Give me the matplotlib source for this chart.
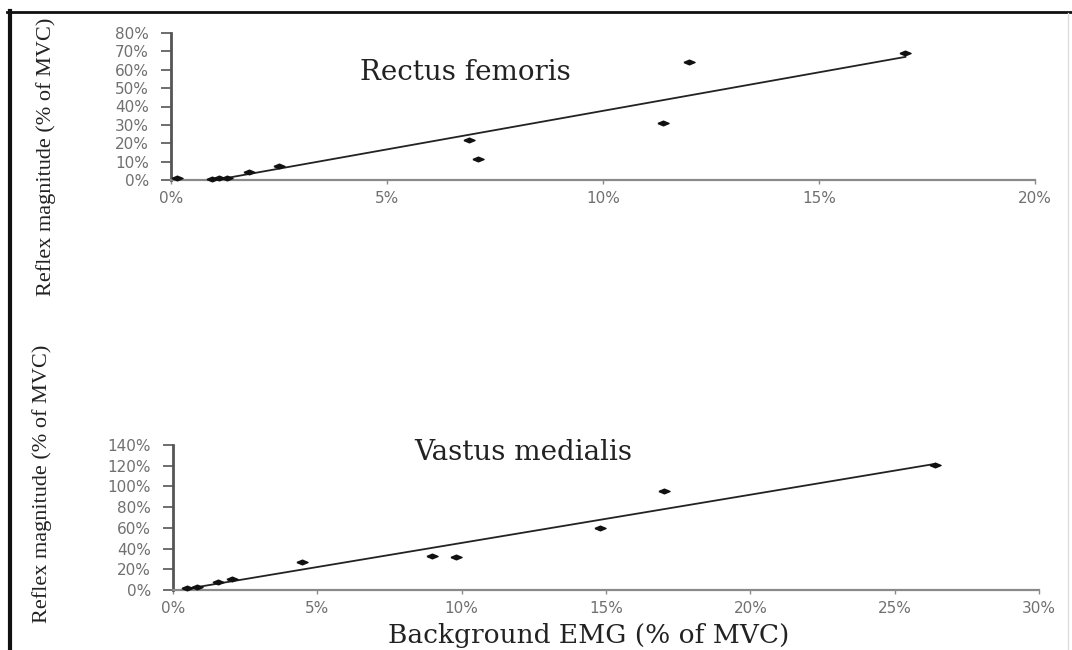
import numpy as np
import matplotlib
matplotlib.use("Agg")
import matplotlib.pyplot as plt
from matplotlib.lines import Line2D
from matplotlib.ticker import FixedLocator, FuncFormatter

# Rectus femoris: background EMG vs reflex magnitude (both % of MVC)
rf_emg = [0.15, 0.95, 1.1, 1.3, 1.8, 2.5, 6.9, 7.1, 11.4, 12.0, 17.0]
rf_reflex = [1.0, 0.8, 1.0, 1.2, 4.4, 7.6, 21.8, 11.4, 31.0, 64.2, 69.1]

# Vastus medialis
vm_emg = [0.48, 0.83, 1.56, 2.04, 4.47, 8.97, 9.8, 14.8, 17.0, 26.4]
vm_reflex = [1.9, 2.9, 7.7, 10.6, 27.0, 32.8, 31.9, 60.0, 95.6, 120.7]

rf_xticks = [0, 5, 10, 15, 20]
rf_yticks = [0, 10, 20, 30, 40, 50, 60, 70, 80]
vm_xticks = [0, 5, 10, 15, 20, 25, 30]
vm_yticks = [0, 20, 40, 60, 80, 100, 120, 140]

ylabel_text = "Reflex magnitude (% of MVC)"
xlabel_text = "Background EMG (% of MVC)"

W, H = 1072, 650
fig = plt.figure(figsize=(W / 100, H / 100), dpi=100)
fig.patch.set_facecolor("white")

tick_color = "#707070"
pct = FuncFormatter(lambda v, _: f"{v:.0f}%")
# horizontally stretched diamond marker
marker_shape = [(-1, 0), (0, 0.42), (1, 0), (0, -0.42), (-1, 0)]


def px_axes(left, right, top, bottom):
    return fig.add_axes([left / W, 1 - bottom / H, (right - left) / W, (bottom - top) / H])


def panel(ax, x, y, xticks, yticks, title, title_xy):
    ax.set_xlim(xticks[0], xticks[-1])
    ax.set_ylim(yticks[0], yticks[-1])
    ax.plot(x, y, linestyle="none", marker=marker_shape, markersize=8,
            color="#111111", zorder=3, clip_on=False)
    k, b = np.polyfit(x, y, 1)
    xs = np.array([min(x), max(x)])
    ax.plot(xs, k * xs + b, color="#222222", lw=1.3, zorder=2)
    for s in ("top", "right"):
        ax.spines[s].set_visible(False)
    ax.spines["left"].set_color("#555555")
    ax.spines["left"].set_linewidth(2.0)
    ax.spines["bottom"].set_color("#8a8a8a")
    ax.spines["bottom"].set_linewidth(1.6)
    ax.xaxis.set_major_locator(FixedLocator(xticks))
    ax.yaxis.set_major_locator(FixedLocator(yticks))
    ax.xaxis.set_major_formatter(pct)
    ax.yaxis.set_major_formatter(pct)
    ax.tick_params(axis="y", direction="out", length=7, width=1.2, color="#555555",
                   labelsize=11, labelcolor=tick_color, pad=9)
    ax.tick_params(axis="x", direction="out", length=3, width=1.0, color="#8a8a8a",
                   labelsize=11, labelcolor=tick_color, pad=5)
    ax.set_facecolor("none")
    fig.text(title_xy[0] / W, 1 - title_xy[1] / H, title, family="DejaVu Serif",
             fontsize=20, color="#222222", ha="center", va="center")


ax1 = px_axes(171, 1035, 33, 180)
panel(ax1, rf_emg, rf_reflex, rf_xticks, rf_yticks, "Rectus femoris", (465, 72))

ax2 = px_axes(173, 1039, 445, 590)
panel(ax2, vm_emg, vm_reflex, vm_xticks, vm_yticks, "Vastus medialis", (523, 452))

# axis titles
fig.text(46 / W, 1 - 157 / H, ylabel_text, family="Liberation Serif", fontsize=16,
         color="#222222", rotation=90, ha="center", va="center")
fig.text(42 / W, 1 - 484 / H, ylabel_text, family="Liberation Serif", fontsize=16,
         color="#222222", rotation=90, ha="center", va="center")
fig.text(589 / W, 1 - 635 / H, xlabel_text, family="DejaVu Serif", fontsize=19,
         color="#222222", ha="center", va="center")

# page frame
fig.add_artist(Line2D([7 / W, 1], [1 - 11.5 / H, 1 - 11.5 / H], color="#111111", lw=2.0))
fig.add_artist(Line2D([9.5 / W, 9.5 / W], [0, 1 - 10.5 / H], color="#111111", lw=3.0))
fig.add_artist(Line2D([1068 / W, 1068 / W], [0, 1 - 13 / H], color="#dddddd", lw=1.0))

fig.savefig("out.png", dpi=100, facecolor="white")
